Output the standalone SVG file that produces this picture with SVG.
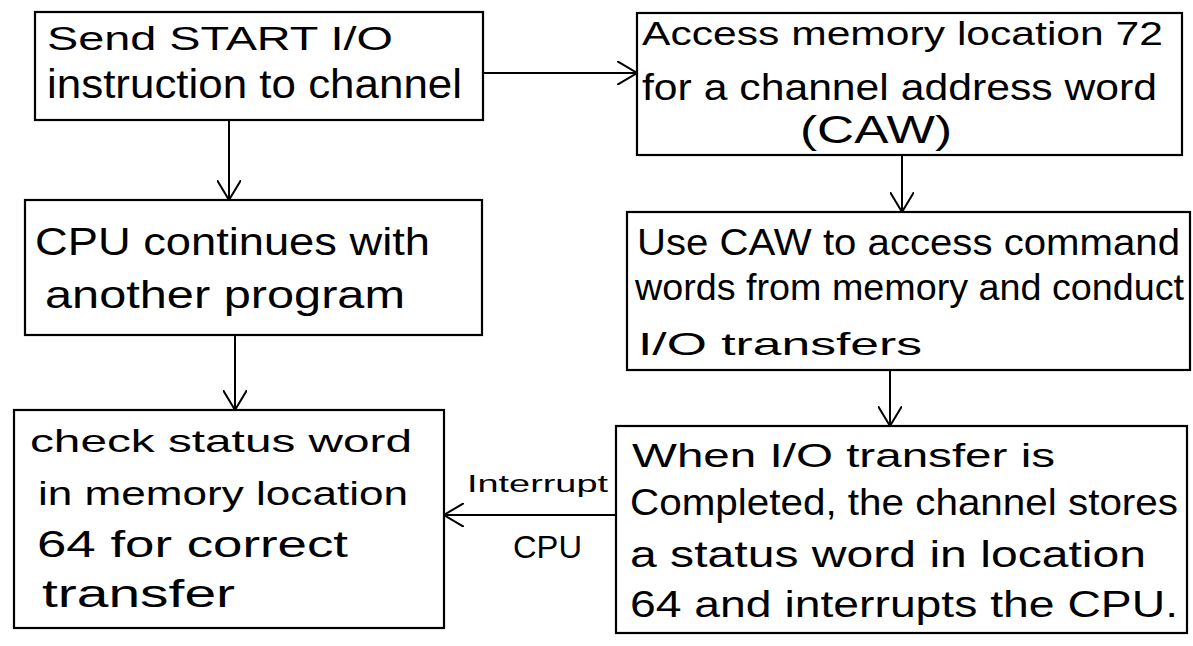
<svg xmlns="http://www.w3.org/2000/svg" width="1193" height="646" viewBox="0 0 1193 646">
<style>
.box{fill:none;stroke:#000;stroke-width:2.2}
.t{font-family:"Liberation Sans",Arial,sans-serif;fill:#000}
.c{fill:none;stroke:#000;stroke-width:2}
</style>
<defs>
<marker id="ah" viewBox="0 0 20 24" refX="20" refY="12" markerWidth="20" markerHeight="24" markerUnits="userSpaceOnUse" orient="auto">
<path d="M0,0 L20,12 L0,24" fill="none" stroke="#000" stroke-width="2"/>
</marker>
</defs>
<rect width="1193" height="646" fill="#fff"/>
<g id="connectors">
<path class="c" d="M229,120 V200" marker-end="url(#ah)"/>
<path class="c" d="M235,335 V410" marker-end="url(#ah)"/>
<path class="c" d="M483,73 H637" marker-end="url(#ah)"/>
<path class="c" d="M902,155 V212" marker-end="url(#ah)"/>
<path class="c" d="M890,370 V426" marker-end="url(#ah)"/>
<path class="c" d="M616,515 H444" marker-end="url(#ah)"/>
<text class="t" x="467" y="492" font-size="24" textLength="141" lengthAdjust="spacingAndGlyphs">Interrupt</text>
<text class="t" x="513" y="558" font-size="32" textLength="69" lengthAdjust="spacingAndGlyphs">CPU</text>
</g>
<g id="n1">
<rect class="box" x="35" y="12" width="448" height="108"/>
<text class="t" x="47" y="50" font-size="34" textLength="346" lengthAdjust="spacingAndGlyphs">Send START I/O</text>
<text class="t" x="47" y="98" font-size="40" textLength="415" lengthAdjust="spacingAndGlyphs">instruction to channel</text>
</g>
<g id="n2">
<rect class="box" x="25" y="200" width="457" height="135"/>
<text class="t" x="35" y="255" font-size="38" textLength="395" lengthAdjust="spacingAndGlyphs">CPU continues with</text>
<text class="t" x="45" y="308" font-size="38" textLength="360" lengthAdjust="spacingAndGlyphs">another program</text>
</g>
<g id="n3">
<rect class="box" x="14" y="410" width="430" height="218"/>
<text class="t" x="30" y="452" font-size="32" textLength="382" lengthAdjust="spacingAndGlyphs">check status word</text>
<text class="t" x="38" y="505" font-size="34" textLength="370" lengthAdjust="spacingAndGlyphs">in memory location</text>
<text class="t" x="37" y="557" font-size="37" textLength="311" lengthAdjust="spacingAndGlyphs">64 for correct</text>
<text class="t" x="42" y="607" font-size="38" textLength="193" lengthAdjust="spacingAndGlyphs">transfer</text>
</g>
<g id="n4">
<rect class="box" x="637" y="13" width="545" height="142"/>
<text class="t" x="642" y="45" font-size="34" textLength="521" lengthAdjust="spacingAndGlyphs">Access memory location 72</text>
<text class="t" x="642" y="100" font-size="36" textLength="515" lengthAdjust="spacingAndGlyphs">for a channel address word</text>
<text class="t" x="800" y="143" font-size="38" textLength="152" lengthAdjust="spacingAndGlyphs">(CAW)</text>
</g>
<g id="n5">
<rect class="box" x="627" y="212" width="563" height="158"/>
<text class="t" x="637" y="255" font-size="37" textLength="543" lengthAdjust="spacingAndGlyphs">Use CAW to access command</text>
<text class="t" x="635" y="300" font-size="36" textLength="549" lengthAdjust="spacingAndGlyphs">words from memory and conduct</text>
<text class="t" x="638" y="355" font-size="32" textLength="284" lengthAdjust="spacingAndGlyphs">I/O transfers</text>
</g>
<g id="n6">
<rect class="box" x="616" y="426" width="571" height="207"/>
<text class="t" x="632" y="467" font-size="34" textLength="423" lengthAdjust="spacingAndGlyphs">When I/O transfer is</text>
<text class="t" x="630" y="515" font-size="36" textLength="548" lengthAdjust="spacingAndGlyphs">Completed, the channel stores</text>
<text class="t" x="630" y="567" font-size="37" textLength="516" lengthAdjust="spacingAndGlyphs">a status word in location</text>
<text class="t" x="630" y="617" font-size="36" textLength="548" lengthAdjust="spacingAndGlyphs">64 and interrupts the CPU.</text>
</g>
</svg>
